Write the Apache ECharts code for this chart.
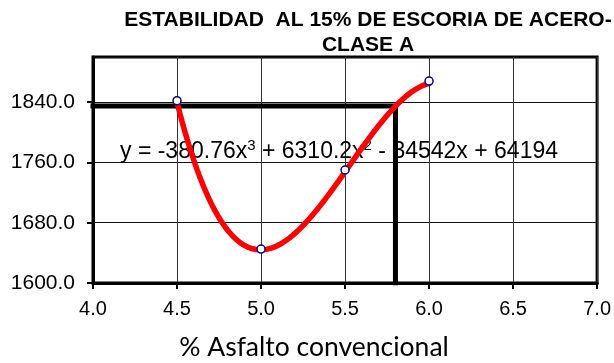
<!DOCTYPE html>
<html>
<head>
<meta charset="utf-8">
<script src="https://cdn.jsdelivr.net/npm/echarts@6/dist/echarts.min.js"></script>
<style>
  html, body { margin: 0; padding: 0; background: #fff; }
  #chart { width: 614px; height: 363px; }
</style>
</head>
<body>
<div id="chart"></div>
<script>
// Measured stability (y) versus asphalt content (x)
const asphaltPct = [4.5, 5.0, 5.5, 6.0];
const stability = [1842, 1645, 1750, 1868];

// Cubic trend line: y = a x^3 + b x^2 + c x + d
const trendCoefficients = [-380.76, 6310.2, -34542, 64194];
const trendRange = [4.5, 6.0];

// Design point
const designPct = 5.8;
const designStability = 1835;

// Axis ranges and tick spacing
const xRange = [4.0, 7.0];
const xStep = 0.5;
const yRange = [1600, 1900];
const yStep = 80;

const titleText = 'ESTABILIDAD  AL 15% DE ESCORIA DE ACERO-\nCLASE A';
const xAxisTitle = '% Asfalto convencional';

function trendValue(x) {
  const [a, b, c, d] = trendCoefficients;
  return ((a * x + b) * x + c) * x + d;
}
const trendPoints = [];
for (let i = 0; i <= 150; i++) {
  const x = trendRange[0] + (trendRange[1] - trendRange[0]) * i / 150;
  trendPoints.push([x, trendValue(x)]);
}

const chart = echarts.init(document.getElementById('chart'), null, { renderer: 'canvas' });
const font = '"Liberation Sans", Arial, sans-serif';

chart.setOption({
  animation: false,
  backgroundColor: '#fff',
  title: [
    {
      text: titleText,
      left: 368, top: 8, textAlign: 'center', padding: 0,
      textStyle: { fontFamily: font, fontWeight: 'bold', fontSize: 21, lineHeight: 25, color: '#000' }
    },
    {
      text: xAxisTitle,
      left: 314, top: 332, textAlign: 'center', padding: 0,
      textStyle: { fontFamily: 'Lato, "Open Sans", sans-serif', fontWeight: 'normal', fontSize: 26.5, lineHeight: 30, color: '#000' }
    }
  ],
  grid: { left: 93, top: 57, width: 505, height: 226, show: true, borderColor: '#000', borderWidth: 3, backgroundColor: 'transparent' },
  xAxis: {
    type: 'value', min: xRange[0], max: xRange[1], interval: xStep,
    axisLine: { show: true, onZero: false, lineStyle: { color: '#000', width: 3 } },
    axisTick: { show: true, length: 6, lineStyle: { color: '#000', width: 2 } },
    axisLabel: { margin: 16, fontFamily: font, fontSize: 20, color: '#000', formatter: v => v.toFixed(1) },
    splitLine: { show: true, lineStyle: { color: '#333', width: 1 } }
  },
  yAxis: {
    type: 'value', min: yRange[0], max: yRange[1], interval: yStep,
    axisLine: { show: true, onZero: false, lineStyle: { color: '#000', width: 3 } },
    axisTick: { show: true, length: 6, lineStyle: { color: '#000', width: 2 } },
    axisLabel: { margin: 18, fontFamily: font, fontSize: 21, color: '#000', showMaxLabel: false, formatter: v => v.toFixed(1) },
    splitLine: { show: true, lineStyle: { color: '#111', width: 1 } }
  },
  graphic: [
    {
      type: 'text', left: 120, top: 138, z: 1,
      style: {
        text: '{m|y = -380.76x}{s|3}{m| + 6310.2x}{s|2}{m| - 34542x + 64194}',
        rich: {
          m: { fontFamily: font, fontSize: 23, lineHeight: 25, color: '#000', verticalAlign: 'bottom' },
          s: { fontFamily: font, fontSize: 15, lineHeight: 25, color: '#000', verticalAlign: 'top' }
        }
      }
    }
  ],
  series: [
    {
      name: 'guide', type: 'line', z: 3, silent: true, symbol: 'none',
      data: [[xRange[0], designStability], [designPct, designStability], [designPct, yRange[0]]],
      lineStyle: { color: '#000', width: 5, cap: 'square', join: 'miter' }
    },
    {
      name: 'trend', type: 'line', z: 4, silent: true, symbol: 'none', smooth: false,
      data: trendPoints,
      lineStyle: { color: '#ff0000', width: 5.5, cap: 'round' }
    },
    {
      name: 'measured', type: 'line', z: 5,
      data: asphaltPct.map((x, i) => [x, stability[i]]),
      lineStyle: { width: 0, opacity: 0 },
      symbol: 'circle', symbolSize: 8,
      itemStyle: { color: '#ffffff', borderColor: '#00008b', borderWidth: 1.5 }
    }
  ]
});
</script>
</body>
</html>
